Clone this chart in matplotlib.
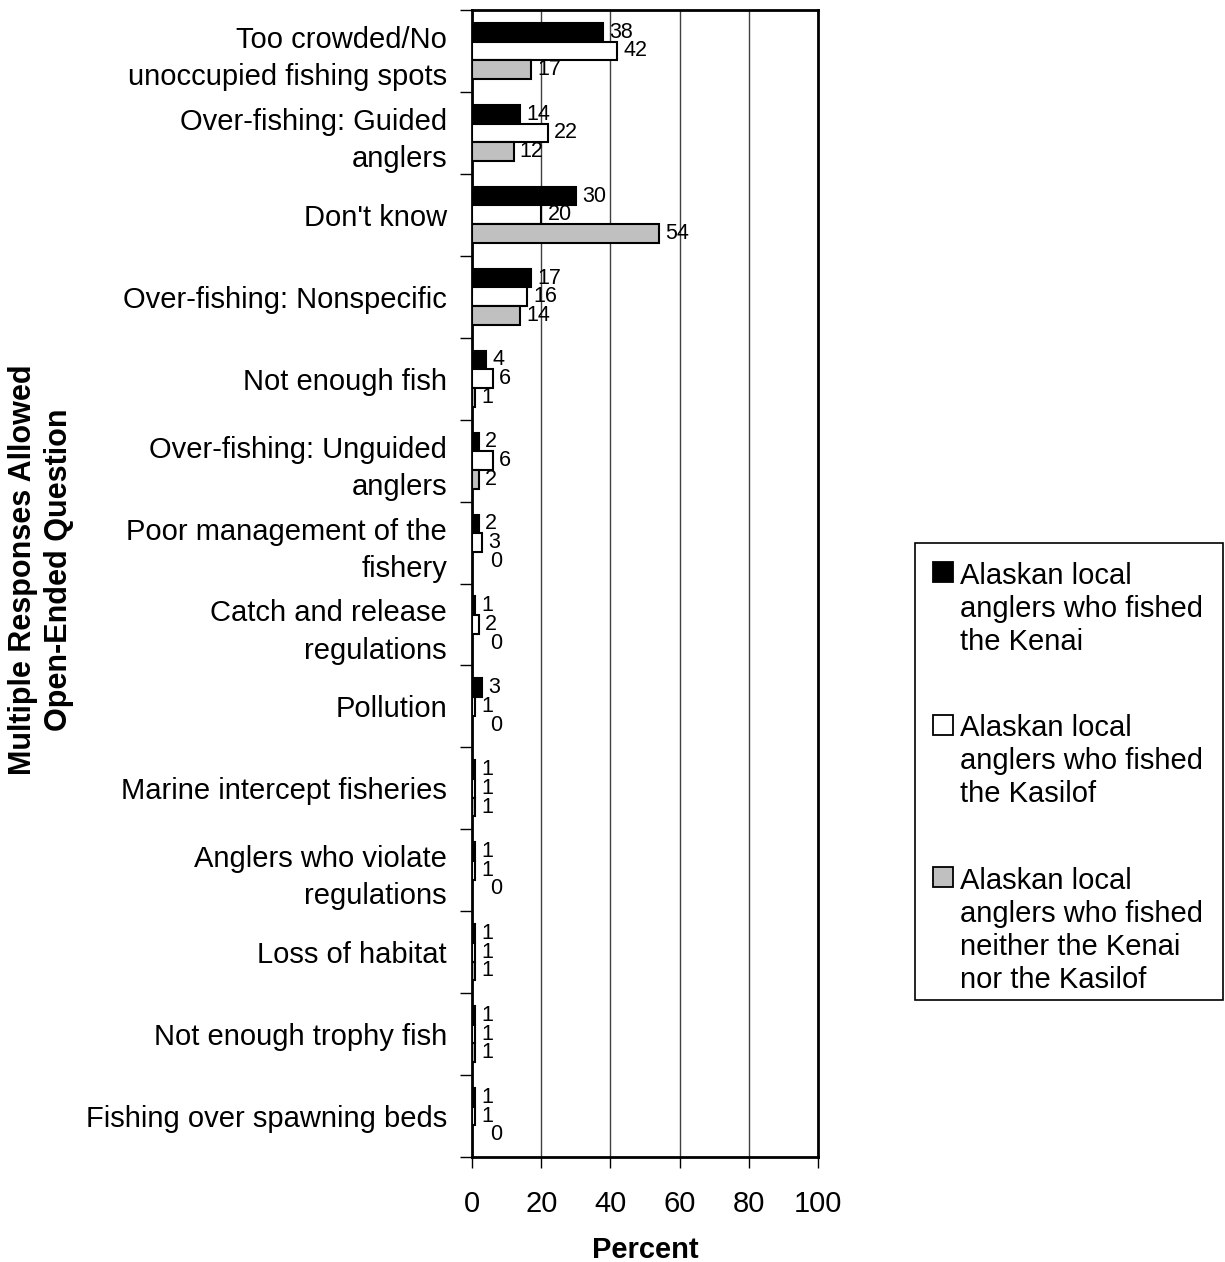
import matplotlib
matplotlib.use("Agg")
import matplotlib.pyplot as plt
from matplotlib.patches import Rectangle
import numpy as np

plt.rcParams['font.family'] = ['Liberation Sans', 'DejaVu Sans']

categories = [
    "Too crowded/No\nunoccupied fishing spots",
    "Over-fishing: Guided\nanglers",
    "Don't know",
    "Over-fishing: Nonspecific",
    "Not enough fish",
    "Over-fishing: Unguided\nanglers",
    "Poor management of the\nfishery",
    "Catch and release\nregulations",
    "Pollution",
    "Marine intercept fisheries",
    "Anglers who violate\nregulations",
    "Loss of habitat",
    "Not enough trophy fish",
    "Fishing over spawning beds",
]
kenai = [38, 14, 30, 17, 4, 2, 2, 1, 3, 1, 1, 1, 1, 1]
kasilof = [42, 22, 20, 16, 6, 6, 3, 2, 1, 1, 1, 1, 1, 1]
neither = [17, 12, 54, 14, 1, 2, 0, 0, 0, 1, 0, 1, 1, 0]
series_labels = [
    "Alaskan local\nanglers who fished\nthe Kenai",
    "Alaskan local\nanglers who fished\nthe Kasilof",
    "Alaskan local\nanglers who fished\nneither the Kenai\nnor the Kasilof",
]
x_ticks = [0, 20, 40, 60, 80, 100]

W, H = 1225, 1262
fig = plt.figure(figsize=(W / 100, H / 100), dpi=100)
ax = fig.add_axes([472 / W, 1 - 1157 / H, (818 - 472) / W, (1157 - 10) / H])

FS = 21
colors = ["black", "white", "#c0c0c0"]
series = [kenai, kasilof, neither]
n = len(categories)
y = np.arange(n)
bh = 0.228
offsets = [-bh, 0, bh]

for s, col, off in zip(series, colors, offsets):
    ax.barh(y + off, s, height=bh, color=col, edgecolor="black",
            linewidth=1.5, zorder=3)
    for yi, v in zip(y + off, s):
        dx = 13 if v == 0 else 4.5
        ax.annotate(str(v), xy=(v, yi), xytext=(dx, 0), textcoords="offset points",
                    ha="left", va="center", fontsize=15.5, zorder=4)

ax.set_xlim(0, 100)
ax.set_ylim(n - 0.5, -0.5)
ax.set_xticks(x_ticks)
ax.set_xticklabels([str(t) for t in x_ticks], fontsize=FS)
ax.tick_params(axis="x", length=8, width=1, pad=16, direction="out")
ax.set_yticks(y)
ax.set_yticklabels(categories, fontsize=FS, linespacing=1.42)
ax.set_yticks(np.arange(n + 1) - 0.5, minor=True)
ax.tick_params(axis="y", which="major", length=0, pad=18)
ax.tick_params(axis="y", which="minor", length=9, width=1, direction="out")
ax.xaxis.grid(True, color="#404040", linewidth=1, zorder=0)
ax.set_axisbelow(True)
for sp in ax.spines.values():
    sp.set_linewidth(2)
    sp.set_color("black")

fig.text(645 / W, 1 - 1258 / H, "Percent", ha="center", va="baseline",
         fontsize=FS, fontweight="bold")
fig.text(41 / W, 1 - 570 / H, "Multiple Responses Allowed\nOpen-Ended Question",
         rotation=90, ha="center", va="center", multialignment="center",
         fontsize=22, fontweight="bold", linespacing=1.3)

# legend
def px(xp, yp):
    return xp / W, 1 - yp / H

lx0, ly0, lx1, ly1 = 915, 543, 1223, 1000
fig.add_artist(Rectangle(px(lx0, ly1), (lx1 - lx0) / W, (ly1 - ly0) / H,
                         transform=fig.transFigure, facecolor="white",
                         edgecolor="black", linewidth=1.2))
entry_top = 562
entry_step = 152.5
for i, (lab, col) in enumerate(zip(series_labels, colors)):
    top = entry_top + i * entry_step
    fig.add_artist(Rectangle(px(933, top + 20), 20 / W, 20 / H,
                             transform=fig.transFigure, facecolor=col,
                             edgecolor="black", linewidth=1.3))
    fig.text(960 / W, 1 - top / H, lab, ha="left", va="top",
             fontsize=FS, linespacing=1.22)

fig.savefig("out.png", dpi=100)
